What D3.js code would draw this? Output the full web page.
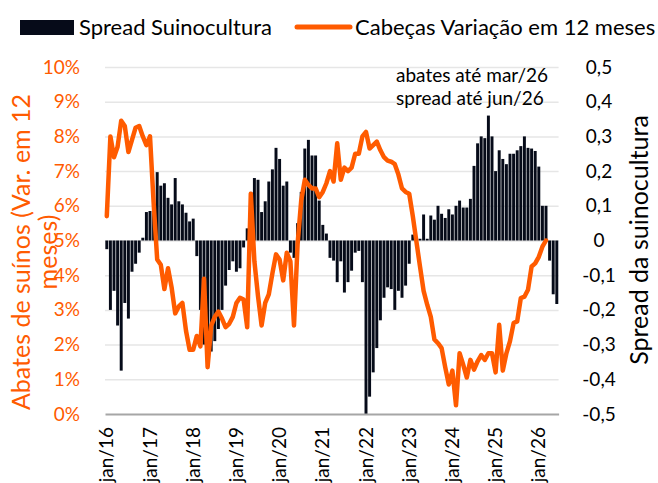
<!DOCTYPE html>
<html lang="pt">
	<head>
		<meta charset="utf-8">
		<title>Spread suinocultura x abates</title>
		<script type="text/javascript" src="https://cdn.jsdelivr.net/npm/d3@7"></script>
		<style type="text/css">
			body {
				margin: 0;
				background: #ffffff;
			}
			svg text {
				font-family: Lato, "Open Sans", sans-serif;
			}
			.grid line {
				stroke: #e6e6e6;
				stroke-width: 1.5;
			}
			.grid path {
				display: none;
			}
		</style>
	</head>
	<body>
		<script type="text/javascript">

			// Month names and years on the x axis
			var monthNames = ["jan", "fev", "mar", "abr", "mai", "jun", "jul", "ago", "set", "out", "nov", "dez"];
			var years = ["16", "17", "18", "19", "20", "21", "22", "23", "24", "25", "26"];

			// Spread Suinocultura (right axis), jan/16 to jun/26
			var spread = [
				-0.025, -0.2, -0.145, -0.245, -0.375, -0.18, -0.225, -0.09, -0.067, -0.035, 0.008, 0.082,
				0.085, 0.09, 0.197, 0.158, 0.165, 0.123, 0.104, 0.18, 0.113, 0.104, 0.08, 0.055,
				0.063, -0.045, -0.2, -0.3, -0.37, -0.32, -0.29, -0.255, -0.2, -0.13, -0.085, -0.06,
				-0.09, -0.08, -0.02, 0.035, 0.14, 0.18, 0.175, 0.082, 0.113, 0.17, 0.205, 0.267,
				0.235, 0.158, 0.17, -0.035, -0.05, 0.05, 0.14, 0.265, 0.29, 0.245, 0.245, 0.115,
				0.045, 0.02, -0.05, -0.058, -0.12, -0.06, -0.15, -0.12, -0.087, -0.035, -0.03, -0.12,
				-0.5, -0.45, -0.38, -0.31, -0.23, -0.165, -0.135, -0.14, -0.2, -0.145, -0.165, -0.13,
				-0.067, 0.017, 0.003, 0.005, 0.075, 0.005, 0.072, 0.06, 0.1, 0.077, 0.065, 0.09,
				0.075, 0.1, 0.115, 0.095, 0.095, 0.12, 0.215, 0.28, 0.3, 0.295, 0.36, 0.3,
				0.2, 0.26, 0.235, 0.22, 0.25, 0.25, 0.26, 0.272, 0.3, 0.267, 0.265, 0.258,
				0.213, 0.1, 0.1, -0.058, -0.155, -0.183
			];

			// Cabeças Variação em 12 meses (left axis, %), jan/16 to mar/26
			var cabecas = [
				5.7, 8.0, 7.4, 7.7, 8.45, 8.3, 7.55, 7.9, 8.25, 8.3, 8.0, 7.75,
				8.0, 6.1, 4.45, 4.3, 3.6, 4.2, 3.65, 2.9, 3.1, 3.2, 2.4, 1.85,
				1.85, 2.25, 1.95, 3.9, 1.35, 2.55, 2.8, 2.95, 2.75, 2.5, 2.6, 2.8,
				3.2, 3.35, 3.3, 2.5, 6.35, 4.4, 3.4, 2.55, 3.2, 3.45, 4.05, 4.6,
				4.45, 3.85, 4.65, 4.4, 2.55, 4.9, 6.15, 6.75, 6.6, 6.5, 6.5, 6.25,
				6.4, 6.65, 7.0, 6.7, 7.8, 6.75, 7.1, 7.0, 7.1, 7.5, 7.5, 8.0,
				8.13, 7.65, 7.75, 7.85, 7.6, 7.4, 7.3, 7.27, 7.2, 6.9, 6.5, 6.4,
				6.35, 5.7, 4.97, 4.25, 3.55, 3.15, 2.8, 2.15, 2.04, 1.9, 1.35, 0.85,
				1.25, 0.25, 1.75, 1.42, 1.05, 1.56, 1.28, 1.52, 1.7, 1.56, 1.75, 1.75,
				1.2, 2.57, 1.25, 1.75, 2.1, 2.62, 2.67, 3.34, 3.38, 3.58, 4.25, 4.34,
				4.53, 4.82, 5.0
			];

			// Tick values
			var leftTicks = [0, 1, 2, 3, 4, 5, 6, 7, 8, 9, 10];
			var rightTicks = [-0.5, -0.4, -0.3, -0.2, -0.1, 0, 0.1, 0.2, 0.3, 0.4, 0.5];

			// Texts
			var legendBars = "Spread Suinocultura";
			var legendLine = "Cabeças Variação em 12 meses";
			var noteLines = ["abates até mar/26", "spread até jun/26"];
			var leftTitle = ["Abates de suínos (Var. em 12", "meses)"];
			var rightTitle = "Spread da suinocultura";

			// Month categories jan/16 ... jun/26
			var months = [];
			years.forEach(function(y) {
				monthNames.forEach(function(m) {
					months.push(m + "/" + y);
				});
			});
			months = months.slice(0, spread.length);
			var janTicks = months.filter(function(d) { return d.indexOf("jan/") === 0; });

			//SVG width and height
			var w = 658;
			var h = 483;
			var plotLeft = 105;
			var plotRight = 558.6;
			var plotTop = 67;
			var plotBottom = 414;
			var orange = "#ff5b00";
			var navy = "#060b19";

			var svg = d3.select("body")
						.append("svg")
						.attr("width", w)
						.attr("height", h);

			// Scales
			var xScale = d3.scaleBand()
							.domain(months)
							.range([plotLeft, plotRight])
							.paddingInner(0.18)
							.paddingOuter(0.09);

			var yLeft = d3.scaleLinear()
							.domain([0, 10])
							.range([plotBottom, plotTop]);

			var yRight = d3.scaleLinear()
							.domain([-0.5, 0.5])
							.range([plotBottom, plotTop]);

			var ptBR = d3.formatLocale({decimal: ",", thousands: ".", grouping: [3], currency: ["R$", ""], minus: "-"});
			var fmtRight = ptBR.format(".1f");

			// Gridlines
			svg.append("g")
				.attr("class", "grid")
				.attr("transform", "translate(" + plotLeft + ",0)")
				.call(d3.axisLeft(yLeft)
					.tickValues(leftTicks.slice(1))
					.tickSize(-(plotRight - plotLeft))
					.tickFormat(""));

			// Bars
			svg.append("g")
				.selectAll("rect")
				.data(spread)
				.enter()
				.append("rect")
				.attr("x", function(d, i) { return xScale(months[i]); })
				.attr("width", xScale.bandwidth())
				.attr("y", function(d) { return yRight(Math.max(0, d)); })
				.attr("height", function(d) { return Math.abs(yRight(d) - yRight(0)); })
				.attr("fill", navy);

			// x axis
			var xAxis = svg.append("g")
				.attr("transform", "translate(0," + plotBottom + ")")
				.call(d3.axisBottom(xScale).tickValues(janTicks).tickSize(0).tickPadding(0));
			xAxis.select(".domain")
				.attr("stroke", "#a6a6a6")
				.attr("stroke-width", 2);
			xAxis.selectAll("text")
				.attr("transform", "rotate(-90)")
				.attr("x", -13)
				.attr("y", 0)
				.attr("dy", "0.35em")
				.attr("text-anchor", "end")
				.attr("font-size", 19)
				.attr("font-family", "Lato")
				.attr("fill", "#000");

			// Line
			var line = d3.line()
							.x(function(d, i) { return xScale(months[i]) + xScale.bandwidth() / 2; })
							.y(function(d) { return yLeft(d); });

			svg.append("path")
				.datum(cabecas)
				.attr("d", line)
				.attr("fill", "none")
				.attr("stroke", orange)
				.attr("stroke-width", 4.5)
				.attr("stroke-linejoin", "round")
				.attr("stroke-linecap", "round");

			// Left axis labels
			var yAxisLeft = svg.append("g")
				.attr("transform", "translate(" + 80 + ",0)")
				.call(d3.axisLeft(yLeft).tickValues(leftTicks).tickSize(0).tickPadding(0)
					.tickFormat(function(d) { return d + "%"; }));
			yAxisLeft.select(".domain").remove();
			yAxisLeft.selectAll("text")
				.attr("font-size", 19)
				.attr("font-family", "Lato")
				.attr("fill", orange);

			// Right axis labels
			var yAxisRight = svg.append("g")
				.attr("transform", "translate(" + 599 + ",0)")
				.call(d3.axisRight(yRight).tickValues(rightTicks).tickSize(0).tickPadding(0)
					.tickFormat(function(d) { return Math.abs(d) < 1e-9 ? "0" : fmtRight(d); }));
			yAxisRight.select(".domain").remove();
			yAxisRight.selectAll("text")
				.attr("text-anchor", "middle")
				.attr("font-size", 19)
				.attr("font-family", "Lato")
				.attr("fill", "#000");

			// Axis titles
			svg.append("text")
				.attr("transform", "translate(30,252) rotate(-90)")
				.attr("text-anchor", "middle")
				.attr("font-size", 25)
				.attr("fill", orange)
				.selectAll("tspan")
				.data(leftTitle)
				.enter()
				.append("tspan")
				.attr("x", 0)
				.attr("dy", function(d, i) { return i === 0 ? 0 : 27; })
				.text(function(d) { return d; });

			svg.append("text")
				.attr("transform", "translate(648,240) rotate(-90)")
				.attr("text-anchor", "middle")
				.attr("font-size", 25)
				.attr("fill", "#000")
				.text(rightTitle);

			// Note
			svg.append("g")
				.selectAll("text")
				.data(noteLines)
				.enter()
				.append("text")
				.attr("x", 396)
				.attr("y", function(d, i) { return 82 + i * 23; })
				.attr("font-size", 19)
				.attr("fill", "#000")
				.text(function(d) { return d; });

			// Legend
			var legend = svg.append("g");
			legend.append("rect")
				.attr("x", 20)
				.attr("y", 20)
				.attr("width", 54)
				.attr("height", 15)
				.attr("fill", navy);
			legend.append("text")
				.attr("x", 79)
				.attr("y", 35)
				.attr("font-size", 22)
				.attr("fill", "#000")
				.text(legendBars);
			legend.append("line")
				.attr("x1", 297)
				.attr("x2", 350)
				.attr("y1", 27)
				.attr("y2", 27)
				.attr("stroke", orange)
				.attr("stroke-width", 5)
				.attr("stroke-linecap", "round");
			legend.append("text")
				.attr("x", 355)
				.attr("y", 35)
				.attr("font-size", 22)
				.attr("fill", "#000")
				.text(legendLine);

		</script>
	</body>
</html>
